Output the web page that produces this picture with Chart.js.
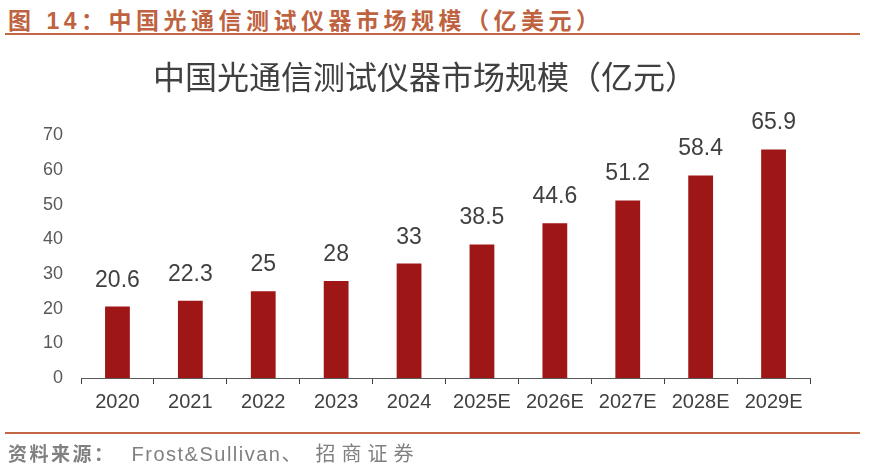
<!DOCTYPE html>
<html>
<head>
<meta charset="utf-8">
<script src="https://cdn.jsdelivr.net/npm/chart.js@4"></script>
<style>
  body { margin: 0; background: #fff; }
  #page { position: relative; width: 869px; height: 468px; overflow: hidden; }
  #head {
    position: absolute; left: 8px; top: 2px;
    font: bold 23px "Liberation Sans", "Noto Sans CJK SC", sans-serif;
    letter-spacing: 4.5px; color: #BE6240; white-space: nowrap;
  }
  .rule { position: absolute; left: 5px; width: 855px; background: #C26644; }
  #foot {
    position: absolute; left: 8px; top: 438px;
    font: 20px "Liberation Sans", "Noto Sans CJK SC", sans-serif;
    color: #808080; white-space: nowrap;
  }
  #foot b { font-size: 19px; letter-spacing: 2.5px; }
  #foot .en { letter-spacing: 1.5px; margin-left: 16px; }
  #foot .dun { letter-spacing: 14px; }
  #foot .cn { letter-spacing: 6px; }
  #wrap { position: absolute; left: 0; top: 0; width: 869px; height: 468px; }
</style>
</head>
<body>
<div id="page">
  <div id="head">图 14：中国光通信测试仪器市场规模（亿美元）</div>
  <div class="rule" style="top:33px;height:2px"></div>
  <div id="wrap"><canvas id="chart"></canvas></div>
  <div class="rule" style="top:432px;height:2px"></div>
  <div id="foot"><b>资料来源：</b><span class="en">Frost&amp;Sullivan</span><span class="dun">、</span><span class="cn">招商证券</span></div>
</div>
<script>
const years = ["2020", "2021", "2022", "2023", "2024", "2025E", "2026E", "2027E", "2028E", "2029E"];
const marketSize = [20.6, 22.3, 25, 28, 33, 38.5, 44.6, 51.2, 58.4, 65.9];
const yTicks = [0, 10, 20, 30, 40, 50, 60, 70];

// value labels above each bar
const barLabels = {
  id: "barLabels",
  afterDatasetsDraw(chart) {
    const ctx = chart.ctx;
    const meta = chart.getDatasetMeta(0);
    ctx.save();
    ctx.font = '23px "Liberation Sans", sans-serif';
    ctx.fillStyle = "#404040";
    ctx.textAlign = "center";
    ctx.textBaseline = "alphabetic";
    meta.data.forEach((bar, i) => {
      ctx.fillText(String(marketSize[i]), bar.x, bar.y - 20);
    });
    ctx.restore();
  }
};

new Chart(document.getElementById("chart"), {
  type: "bar",
  data: {
    labels: years,
    datasets: [{
      data: marketSize,
      backgroundColor: "#9E1616",
      categoryPercentage: 1,
      barPercentage: 0.34
    }]
  },
  options: {
    responsive: true,
    maintainAspectRatio: false,
    animation: false,
    layout: { padding: { left: 40, right: 59, top: 55, bottom: 50 } },
    plugins: {
      legend: { display: false },
      tooltip: { enabled: false },
      title: {
        display: true,
        text: "中国光通信测试仪器市场规模（亿元）",
        color: "#404040",
        font: { family: '"Noto Sans CJK SC", sans-serif', size: 32, weight: "normal", lineHeight: 1.2 },
        padding: { top: 2.8, bottom: 39 }
      }
    },
    scales: {
      x: {
        grid: { display: true, drawOnChartArea: false, drawTicks: true, tickLength: 6, color: "#404040", offset: true },
        border: { display: true, color: "#595959", width: 1 },
        ticks: { color: "#404040", font: { family: '"Liberation Sans", sans-serif', size: 20 }, padding: 6 },
        afterFit(scale) { scale.height = 40; }
      },
      y: {
        min: 0,
        max: 70,
        grid: { display: false, drawTicks: false },
        border: { display: false },
        afterBuildTicks(scale) { scale.ticks = yTicks.map(v => ({ value: v })); },
        ticks: { color: "#595959", font: { family: '"Liberation Sans", sans-serif', size: 18 }, padding: 18 },
        afterFit(scale) { scale.width = 41; }
      }
    }
  },
  plugins: [barLabels]
});
</script>
</body>
</html>
